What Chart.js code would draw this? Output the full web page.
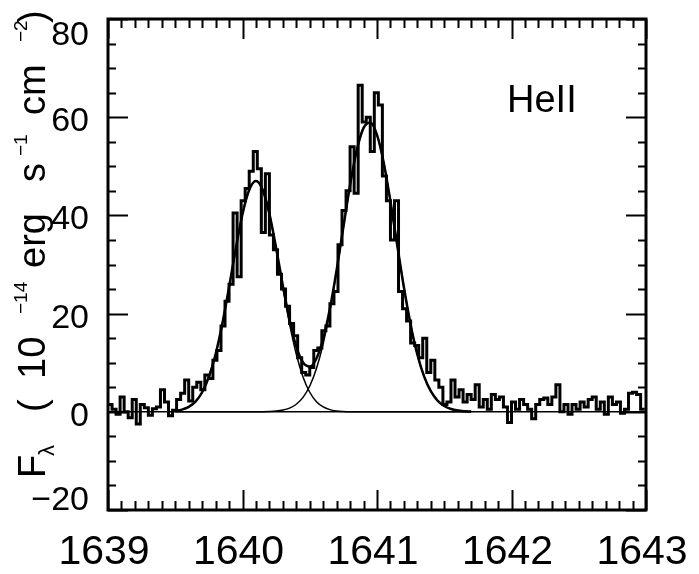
<!DOCTYPE html>
<html>
<head>
<meta charset="utf-8">
<script src="https://cdn.jsdelivr.net/npm/chart.js@4/dist/chart.umd.min.js"></script>
<style>
  html, body { margin: 0; padding: 0; background: #fff; }
  canvas { display: block; }
</style>
</head>
<body>
<canvas id="heiiChart" width="699" height="574"></canvas>
<script>
// HeII 1640 line profile: binned spectrum plus two gaussian components

// spectrum bins (left edges from binStart, width binWidth, Angstrom)
var binStart = 1639.0;
var binWidth = 0.03;
var fluxHist = [
  1.5, 0.5, -0.5, 3.0, 0.0, -1.2, 2.5, -2.5, 1.5, 0.8,
  -0.7, 0.6, 1.0, 4.5, 2.0, -0.8, 0.3, 2.5, 3.8, 6.5,
  2.2, 5.0, 6.0,
  4.5, 7.5, 6.8, 10.5, 12.5, 17.5, 22.5, 26.0, 40.5, 27.5,
  43.0, 45.5, 49.0, 53.0, 49.5, 36.5, 48.5, 36.0, 33.0, 28.0,
  25.0, 21.5,
  18.0, 15.5, 11.0, 8.0, 7.5, 9.0, 12.5, 13.0, 16.5, 17.5,
  22.0, 24.5, 34.0, 41.0, 45.0, 54.0,
  44.5, 66.5, 59.0, 60.0, 53.0, 65.0, 62.5, 48.0, 43.0, 35.0,
  43.0, 24.5, 21.0, 18.5, 14.0, 13.5, 11.0, 15.0, 8.0, 10.5,
  6.5,
  5.0, 1.5, 2.0, 6.5, 3.0, 4.5, 2.0, 3.5, 2.5, 5.5,
  1.0, 2.5, 0.5, 3.5, 2.5, 3.0, 1.0, -2.2, 2.0, 0.5,
  2.5, 1.5, 0.5, -1.4, 1.5, 2.5, 2.8, 1.5, 3.0, 5.5,
  0.0, 1.5, -0.5, 1.5, 0.5, 2.0, 1.0, 2.5, 3.0, 0.5,
  2.0, -0.5, 3.0, 1.5, 2.0, -0.3, 0.5, 3.8, 4.0, 3.5,
  0.5
];

// fitted components, sampled every fitStep from fitStart
var fitStart = 1639.5;
var fitStep = 0.05;
var fitBlue = [
  0.18, 0.44, 0.99, 2.06, 3.98, 7.10, 11.72, 17.91, 25.35, 33.22,
  40.28, 45.22, 47.00, 45.22, 40.28, 33.22, 25.35, 17.91, 11.72, 7.10,
  3.98, 2.06, 0.99, 0.44, 0.18, 0.07, 0.02, 0, 0, 0,
  0, 0, 0, 0, 0, 0, 0, 0, 0, 0,
  0, 0, 0, 0, 0
];
var fitRed = [
  0, 0, 0, 0, 0, 0, 0, 0, 0, 0,
  0, 0, 0.01, 0.02, 0.06, 0.15, 0.35, 0.76, 1.54, 2.93,
  5.25, 8.81, 13.91, 20.62, 28.72, 37.58, 46.18, 53.32, 57.83, 58.93,
  56.40, 50.73, 42.84, 34.01, 25.35, 17.75, 11.68, 7.22, 4.19, 2.29,
  1.17, 0.56, 0.25, 0.11, 0.04
];
var fitSum = [
  0.18, 0.44, 0.99, 2.06, 3.98, 7.10, 11.72, 17.91, 25.35, 33.22,
  40.28, 45.22, 47.01, 45.24, 40.34, 33.37, 25.70, 18.67, 13.26, 10.03,
  9.23, 10.87, 14.90, 21.06, 28.90, 37.65, 46.20, 53.32, 57.83, 58.93,
  56.40, 50.73, 42.84, 34.01, 25.35, 17.75, 11.68, 7.22, 4.19, 2.29,
  1.17, 0.56, 0.25, 0.11, 0.04
];

var xTicks = [1639, 1640, 1641, 1642, 1643];
var yTicks = [-20, 0, 20, 40, 60, 80];
var lineLabel = 'HeII';

var FONT = '"Liberation Sans", Arial, Helvetica, sans-serif';

function histPoints() {
  var pts = fluxHist.map(function (v, i) {
    return { x: binStart + i * binWidth, y: v };
  });
  // close the last bin at its right edge
  pts.push({ x: binStart + fluxHist.length * binWidth, y: fluxHist[fluxHist.length - 1] });
  return pts;
}

function fitPoints(values) {
  return values.map(function (v, i) {
    return { x: fitStart + i * fitStep, y: v };
  });
}

// frame, inward ticks, tick labels and titles
var framePlugin = {
  id: 'idlFrame',
  afterDraw: function (chart) {
    var ctx = chart.ctx;
    var a = chart.chartArea;
    var sx = chart.scales.x;
    var sy = chart.scales.y;

    ctx.save();
    ctx.strokeStyle = '#000';
    ctx.lineCap = 'butt';

    // minor + major ticks on all four sides
    ctx.lineWidth = 2;
    ctx.beginPath();
    var v, px, len;
    for (var k = 0; k <= 40; k++) {
      v = sx.min + k * 0.1;
      px = Math.round(sx.getPixelForValue(v)) + 0.5;
      len = (k % 10 === 0) ? 20 : 9;
      ctx.moveTo(px, a.bottom); ctx.lineTo(px, a.bottom - len);
      ctx.moveTo(px, a.top); ctx.lineTo(px, a.top + len);
    }
    for (var j = 0; j <= 20; j++) {
      v = sy.min + j * 5;
      px = Math.round(sy.getPixelForValue(v)) + 0.5;
      len = (j % 4 === 0) ? 20 : 8;
      ctx.moveTo(a.left, px); ctx.lineTo(a.left + len, px);
      ctx.moveTo(a.right, px); ctx.lineTo(a.right - len, px);
    }
    ctx.stroke();

    ctx.lineWidth = 3;
    ctx.strokeRect(a.left, a.top, a.right - a.left, a.bottom - a.top);

    ctx.fillStyle = '#000';

    // y tick labels, kept inside the frame height
    ctx.font = '34px ' + FONT;
    ctx.textAlign = 'right';
    ctx.textBaseline = 'alphabetic';
    yTicks.forEach(function (t) {
      var base = sy.getPixelForValue(t) + 14;
      base = Math.max(a.top + 26, Math.min(a.bottom, base));
      var txt = t < 0 ? '\u2212' + Math.abs(t) : String(t);
      ctx.fillText(txt, a.left - 19, base);
    });

    // x tick labels
    ctx.font = '41px ' + FONT;
    ctx.textAlign = 'center';
    xTicks.forEach(function (t) {
      ctx.fillText(String(t), sx.getPixelForValue(t) - 4, 564);
    });

    // line identification
    ctx.font = '38px ' + FONT;
    ctx.textAlign = 'left';
    ctx.fillText(lineLabel, 507, 112);

    // rotated y title: F_lambda (10^-14 erg s^-1 cm^-2)
    var baseX = 45;
    var pieces = [
      ['F', 478, 38, 0],
      ['\u03bb', 456, 22, 9],
      ['(', 412, 38, 0],
      ['10', 379, 38, 0],
      ['\u221214', 314, 19, -18],
      ['erg', 268, 38, 0],
      ['s', 182, 38, 0],
      ['\u22121', 156, 19, -18],
      ['cm', 115, 38, 0],
      ['\u22122', 42, 19, -18],
      [')', 23, 38, 0]
    ];
    pieces.forEach(function (p) {
      ctx.save();
      ctx.translate(baseX + p[3], p[1]);
      ctx.rotate(-Math.PI / 2);
      ctx.font = p[2] + 'px ' + FONT;
      ctx.textAlign = 'left';
      ctx.fillText(p[0], 0, 0);
      ctx.restore();
    });

    ctx.restore();
  }
};

var ctx = document.getElementById('heiiChart').getContext('2d');

new Chart(ctx, {
  type: 'line',
  data: {
    datasets: [
      {
        label: 'zero',
        data: [{ x: 1639, y: 0 }, { x: 1643, y: 0 }],
        borderColor: '#000',
        borderWidth: 1.5,
        pointRadius: 0
      },
      {
        label: 'blue component',
        data: fitPoints(fitBlue),
        borderColor: '#000',
        borderWidth: 1.5,
        pointRadius: 0,
        cubicInterpolationMode: 'monotone'
      },
      {
        label: 'red component',
        data: fitPoints(fitRed),
        borderColor: '#000',
        borderWidth: 1.5,
        pointRadius: 0,
        cubicInterpolationMode: 'monotone'
      },
      {
        label: 'sum',
        data: fitPoints(fitSum),
        borderColor: '#000',
        borderWidth: 2.5,
        pointRadius: 0,
        cubicInterpolationMode: 'monotone'
      },
      {
        label: 'spectrum',
        data: histPoints(),
        borderColor: '#000',
        borderWidth: 3,
        pointRadius: 0,
        stepped: 'before'
      }
    ]
  },
  options: {
    responsive: false,
    animation: false,
    events: [],
    layout: { padding: { top: 19, right: 53, bottom: 0, left: 0 } },
    plugins: {
      legend: { display: false },
      tooltip: { enabled: false }
    },
    scales: {
      x: {
        type: 'linear',
        min: 1639,
        max: 1643,
        grid: { display: false },
        border: { display: false },
        ticks: { display: false },
        afterFit: function (s) { s.height = 64; }
      },
      y: {
        type: 'linear',
        min: -20,
        max: 80,
        grid: { display: false },
        border: { display: false },
        ticks: { display: false },
        afterFit: function (s) { s.width = 108; }
      }
    }
  },
  plugins: [framePlugin]
});
</script>
</body>
</html>
